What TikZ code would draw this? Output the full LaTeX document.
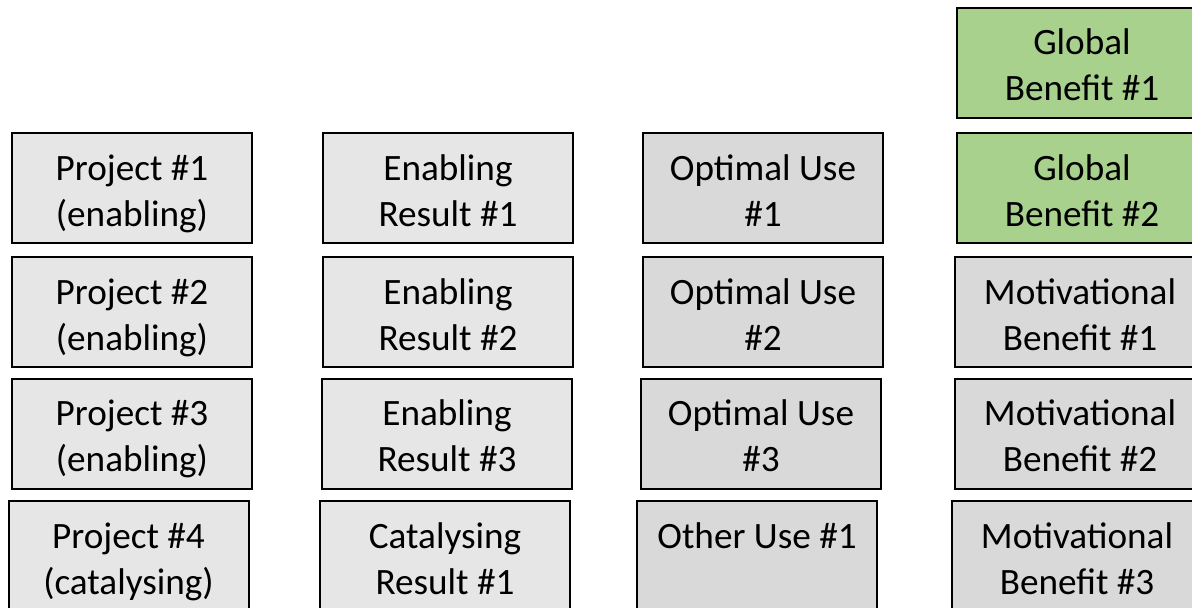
\documentclass[tikz,border=0pt]{standalone}
\usepackage{fontspec}
\setmainfont{Carlito}
\usepackage{tikz}
\usetikzlibrary{positioning}

\definecolor{palegray}{HTML}{E7E6E6}
\definecolor{midgray}{HTML}{D9D9D9}
\definecolor{benefitgreen}{HTML}{A9D18E}

% two text lines, same vertical place in every box
\newcommand{\boxstrut}{\rule[-4pt]{0pt}{23pt}}
\newcommand{\twolines}[2]{\boxstrut#1\\#2\boxstrut}

\tikzset{
    box/.style={draw, line width=1pt, inner sep=0pt, outer sep=0pt, align=center,
        minimum height=55pt, font=\fontsize{18.6}{23}\selectfont},
    projbox/.style={box, fill=palegray, minimum width=120pt},
    resbox/.style={box, fill=palegray, minimum width=125pt},
    usebox/.style={box, fill=midgray, minimum width=120pt},
    benbox/.style={box, fill=midgray, minimum width=125pt},
    globbox/.style={benbox, fill=benefitgreen}
}

\begin{document}
\begin{tikzpicture}[x=0.5pt,y=-0.5pt]
                \useasboundingbox (0,0) rectangle (1192,607);
                \clip (0,0) rectangle (1192,607);

                %Projects
                \node[projbox] at (132,188) (proj1) {\twolines{Project \#1}{(enabling)}};
                \node[projbox] at (132,312) (proj2) {\twolines{Project \#2}{(enabling)}};
                \node[projbox] at (132,433.5) (proj3) {\twolines{Project \#3}{(enabling)}};
                \node[projbox] at (128.5,556) (proj4) {\twolines{Project \#4}{(catalysing)}};

                %Results
                \node[resbox] at (448,188) (res1) {\twolines{Enabling}{Result \#1}};
                \node[resbox] at (448,312) (res2) {\twolines{Enabling}{Result \#2}};
                \node[resbox] at (447,433.5) (res3) {\twolines{Enabling}{Result \#3}};
                \node[resbox] at (445,556) (res4) {\twolines{Catalysing}{Result \#1}};

                %Uses
                \node[usebox] at (763,188) (use1) {\twolines{Optimal Use}{\#1}};
                \node[usebox] at (763,312) (use2) {\twolines{Optimal Use}{\#2}};
                \node[usebox] at (761,433.5) (use3) {\twolines{Optimal Use}{\#3}};
                \node[usebox] at (757,556) (use4) {\twolines{Other Use \#1}{}};

                %Benefits
                \node[globbox] at (1082,62.5) (glob1) {\twolines{Global}{Benefit \#1}};
                \node[globbox] at (1082,188) (glob2) {\twolines{Global}{Benefit \#2}};
                \node[benbox] at (1080,312) (mot1) {\twolines{Motivational}{Benefit \#1}};
                \node[benbox] at (1080,433.5) (mot2) {\twolines{Motivational}{Benefit \#2}};
                \node[benbox] at (1077,556) (mot3) {\twolines{Motivational}{Benefit \#3}};
            \end{tikzpicture}
\end{document}
